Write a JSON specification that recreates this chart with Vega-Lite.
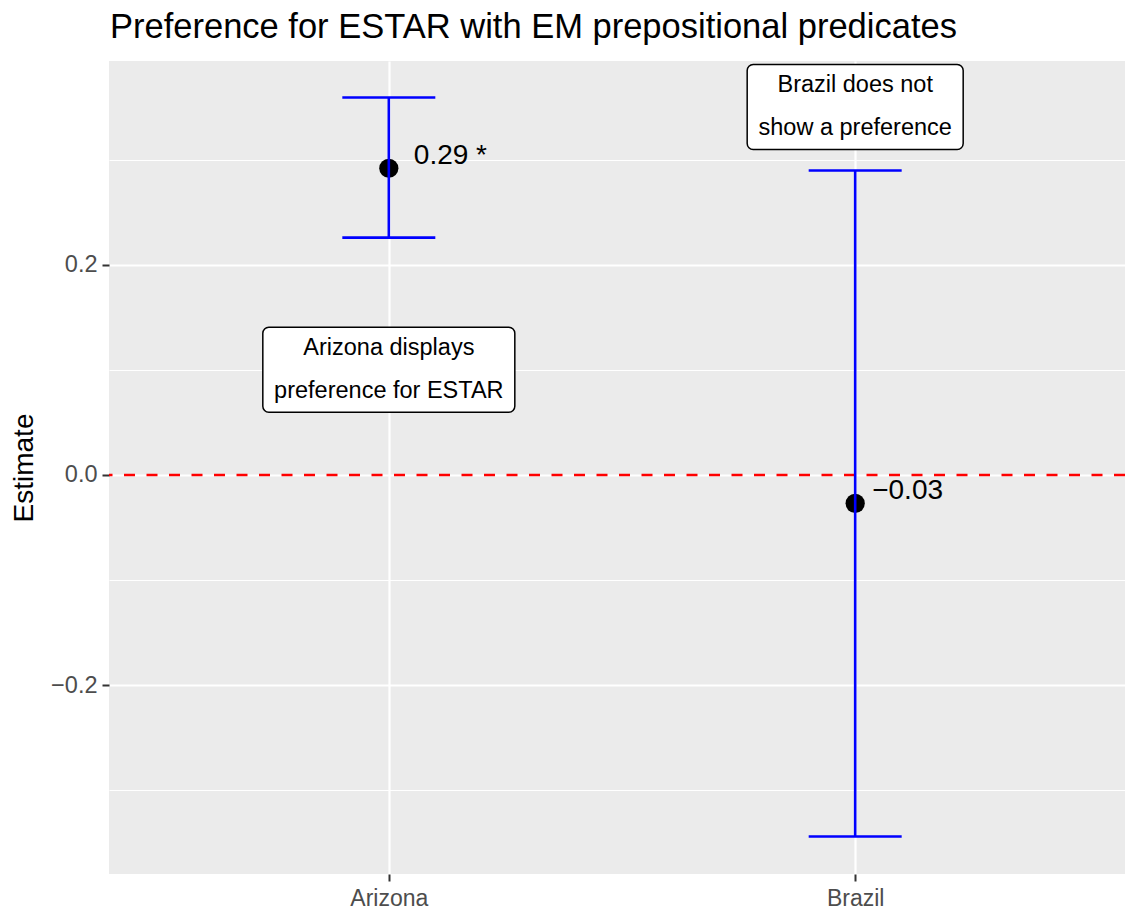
{
  "$schema": "https://vega.github.io/schema/vega-lite/v6.json",
  "autosize": {"type": "none"},
  "width": 1016,
  "height": 813,
  "padding": {"left": 109, "top": 61, "right": 0, "bottom": 35},
  "background": "white",
  "title": {
    "text": "Preference for ESTAR with EM prepositional predicates",
    "anchor": "start",
    "frame": "group",
    "font": "Liberation Sans",
    "fontSize": 34.5,
    "fontWeight": "normal",
    "color": "black",
    "baseline": "alphabetic",
    "offset": -11,
    "dx": 1
  },
  "config": {
    "view": {"fill": "#EBEBEB", "stroke": null},
    "font": "Liberation Sans"
  },
  "datasets": {
    "est": [
      {"region": "Arizona", "estimate": 0.2917, "lower": 0.2257, "upper": 0.359, "label": "0.29 *"},
      {"region": "Brazil", "estimate": -0.027, "lower": -0.3438, "upper": 0.2895, "label": "−0.03"}
    ],
    "notes": [
      {"region": "Arizona", "y": 0.1, "text": ["Arizona displays", "preference for ESTAR"]},
      {"region": "Brazil", "y": 0.35, "text": ["Brazil does not", "show a preference"]}
    ],
    "ref": [{"value": 0}]
  },
  "encoding": {
    "x": {
      "field": "region",
      "type": "nominal",
      "sort": ["Arizona", "Brazil"],
      "scale": {"type": "point", "domain": ["Arizona", "Brazil"], "range": [0, 1026], "padding": 0.6},
      "axis": {
        "title": null,
        "labelAngle": 0,
        "labelFont": "Liberation Sans",
        "labelFontSize": 23,
        "labelColor": "#4D4D4D",
        "labelPadding": 6,
        "domain": false,
        "ticks": true,
        "tickSize": 7,
        "tickWidth": 2,
        "tickColor": "#333333",
        "grid": true,
        "gridColor": "white",
        "gridWidth": 2.2
      }
    }
  },
  "layer": [
    {
      "data": {"name": "ref"},
      "mark": {"type": "rule", "color": "#FF0000", "strokeWidth": 2.5, "strokeDash": [11, 11.5]},
      "encoding": {
        "x": null,
        "y": {
          "field": "value",
          "type": "quantitative",
          "scale": {"domain": [-0.3795, 0.3937], "nice": false, "zero": false},
          "axis": {
            "title": "Estimate",
            "titleFont": "Liberation Sans",
            "titleFontSize": 28,
            "titleFontWeight": "normal",
            "titleColor": "black",
            "titlePadding": 12,
            "values": [-0.3, -0.2, -0.1, 0, 0.1, 0.2, 0.3],
            "format": ".1f",
            "labelExpr": "abs(round(datum.value*10)) % 2 == 0 ? datum.label : ''",
            "labelFont": "Liberation Sans",
            "labelFontSize": 23.5,
            "labelColor": "#4D4D4D",
            "labelPadding": 5,
            "domain": false,
            "tickSize": 7,
            "tickWidth": 2,
            "tickColor": "#333333",
            "tickOpacity": {"condition": {"test": "abs(round(datum.value*10)) % 2 == 0", "value": 1}, "value": 0},
            "grid": true,
            "gridColor": "white",
            "gridWidth": {"condition": {"test": "abs(round(datum.value*10)) % 2 == 0", "value": 2.2}, "value": 1.1}
          }
        }
      }
    },
    {
      "data": {"name": "est"},
      "mark": {"type": "point", "shape": "circle", "filled": true, "color": "black", "opacity": 1, "size": 370},
      "encoding": {"y": {"field": "estimate", "type": "quantitative"}}
    },
    {
      "data": {"name": "est"},
      "mark": {"type": "rule", "color": "#0000FF", "strokeWidth": 2.6},
      "encoding": {
        "y": {"field": "lower", "type": "quantitative"},
        "y2": {"field": "upper"}
      }
    },
    {
      "data": {"name": "est"},
      "mark": {"type": "tick", "color": "#0000FF", "thickness": 2.6, "size": 93, "orient": "horizontal", "opacity": 1},
      "encoding": {"y": {"field": "lower", "type": "quantitative"}}
    },
    {
      "data": {"name": "est"},
      "mark": {"type": "tick", "color": "#0000FF", "thickness": 2.6, "size": 93, "orient": "horizontal", "opacity": 1},
      "encoding": {"y": {"field": "upper", "type": "quantitative"}}
    },
    {
      "data": {"name": "est"},
      "transform": [{"filter": "datum.region == 'Arizona'"}],
      "mark": {"type": "text", "align": "left", "baseline": "alphabetic", "dx": 25, "dy": -4.5, "fontSize": 28, "font": "Liberation Sans", "color": "black"},
      "encoding": {"y": {"field": "estimate", "type": "quantitative"}, "text": {"field": "label"}}
    },
    {
      "data": {"name": "est"},
      "transform": [{"filter": "datum.region == 'Brazil'"}],
      "mark": {"type": "text", "align": "left", "baseline": "alphabetic", "dx": 17, "dy": -4.5, "fontSize": 28, "font": "Liberation Sans", "color": "black"},
      "encoding": {"y": {"field": "estimate", "type": "quantitative"}, "text": {"field": "label"}}
    },
    {
      "data": {"name": "notes"},
      "transform": [{"filter": "datum.region == 'Arizona'"}],
      "mark": {"type": "rect", "width": 252, "height": 85, "fill": "white", "stroke": "black", "strokeWidth": 1.5, "cornerRadius": 6},
      "encoding": {"y": {"field": "y", "type": "quantitative"}}
    },
    {
      "data": {"name": "notes"},
      "transform": [{"filter": "datum.region == 'Brazil'"}],
      "mark": {"type": "rect", "width": 216, "height": 85, "fill": "white", "stroke": "black", "strokeWidth": 1.5, "cornerRadius": 6},
      "encoding": {"y": {"field": "y", "type": "quantitative"}}
    },
    {
      "data": {"name": "notes"},
      "mark": {"type": "text", "align": "center", "baseline": "middle", "dy": -21.5, "fontSize": 23.5, "lineHeight": 43, "font": "Liberation Sans", "color": "black"},
      "encoding": {"y": {"field": "y", "type": "quantitative"}, "text": {"field": "text"}}
    }
  ]
}
